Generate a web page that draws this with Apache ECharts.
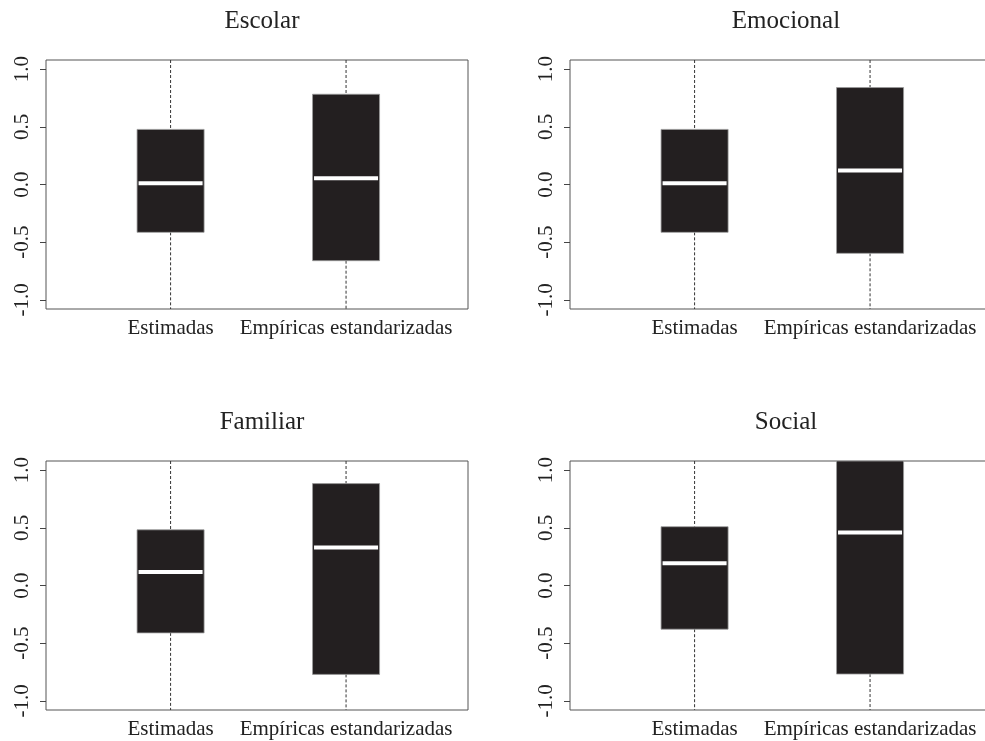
<!DOCTYPE html>
<html>
<head>
<meta charset="utf-8">
<script src="https://cdn.jsdelivr.net/npm/echarts@6/dist/echarts.min.js"></script>
<style>html,body{margin:0;padding:0;background:#fff;}#c{width:985px;height:741px;}</style>
</head>
<body>
<div id="c"></div>
<script>
// ---- data ----
const panels = ['Escolar', 'Emocional', 'Familiar', 'Social'];
const categories = ['Estimadas', 'Empíricas estandarizadas'];
const catPos = [1, 2];
const yTicks = [-1, -0.5, 0, 0.5, 1];
// per panel: [Estimadas, Empíricas]
const whiskerLow = [[-1.4, -1.6], [-1.4, -1.6], [-1.4, -1.8], [-1.3, -1.8]];
const q1 = [[-0.415, -0.661], [-0.415, -0.597], [-0.411, -0.771], [-0.379, -0.768]];
const median = [[0.011, 0.055], [0.011, 0.122], [0.118, 0.329], [0.193, 0.46]];
const q3 = [[0.478, 0.783], [0.478, 0.841], [0.483, 0.884], [0.51, 1.12]];
const whiskerHigh = [[1.4, 1.8], [1.4, 1.9], [1.4, 2.0], [1.4, 2.2]];

// ---- layout ----
const FONT = 'Liberation Serif';
const gridPos = [
  {left: 46, top: 60},
  {left: 570, top: 60},
  {left: 46, top: 461},
  {left: 570, top: 461}
];
const GW = 422, GH = 249;
const HALF = 0.191;

function renderItem(params, api) {
  const x = api.value(0), lo = api.value(1), a = api.value(2), md = api.value(3), b = api.value(4), hi = api.value(5);
  const pTL = api.coord([x - HALF, b]);
  const pBR = api.coord([x + HALF, a]);
  const pc = api.coord([x, md]);
  const pHi = api.coord([x, hi]);
  const pLo = api.coord([x, lo]);
  const cs = params.coordSys;
  const clipY = (y) => Math.max(cs.y, Math.min(cs.y + cs.height, y));
  const topY = clipY(pTL[1]), botY = clipY(pBR[1]);
  const dash = {stroke: '#333', lineWidth: 1, lineDash: [3, 2], fill: null};
  return {
    type: 'group',
    children: [
      {type: 'line', shape: {x1: pc[0], y1: clipY(pHi[1]), x2: pc[0], y2: topY}, style: dash},
      {type: 'line', shape: {x1: pc[0], y1: botY, x2: pc[0], y2: clipY(pLo[1])}, style: dash},
      {type: 'rect', shape: {x: pTL[0], y: topY, width: pBR[0] - pTL[0], height: botY - topY},
        style: {fill: '#231f20', stroke: '#9a9a9a', lineWidth: 0.8}},
      {type: 'line', shape: {x1: pTL[0] + 1.5, y1: pc[1], x2: pBR[0] - 1.5, y2: pc[1]},
        style: {stroke: '#ffffff', lineWidth: 4}}
    ]
  };
}

const grid = [], xAxis = [], yAxis = [], series = [], title = [];
panels.forEach((name, i) => {
  const g = gridPos[i];
  grid.push({left: g.left, top: g.top, width: GW, height: GH, show: true, containLabel: false,
    outerBoundsMode: 'none',
    borderColor: '#555', borderWidth: 1, backgroundColor: 'transparent'});
  title.push({text: name, left: g.left + GW / 2, top: g.top - 56, textAlign: 'center',
    textStyle: {fontFamily: FONT, fontSize: 25, fontWeight: 'normal', color: '#222'}});
  xAxis.push({type: 'value', gridIndex: i, min: 0.29, max: 2.695,
    axisLine: {show: false}, axisTick: {show: false}, splitLine: {show: false},
    axisLabel: {customValues: catPos, margin: 9, fontFamily: FONT, fontSize: 21, color: '#222',
      formatter: v => categories[catPos.indexOf(Math.round(v))] || ''}});
  yAxis.push({type: 'value', gridIndex: i, min: -1.08, max: 1.08,
    axisLine: {show: false}, splitLine: {show: false},
    axisTick: {show: true, customValues: yTicks, length: 6, lineStyle: {color: '#444'}},
    axisLabel: {customValues: yTicks, rotate: 90, margin: 13, fontFamily: FONT, fontSize: 21, color: '#222',
      formatter: v => v.toFixed(1)}});
  series.push({type: 'custom', xAxisIndex: i, yAxisIndex: i, clip: true,
    renderItem: renderItem,
    encode: {x: 0, y: [1, 2, 3, 4, 5]},
    data: catPos.map((p, k) => [p, whiskerLow[i][k], q1[i][k], median[i][k], q3[i][k], whiskerHigh[i][k]])});
});

const chart = echarts.init(document.getElementById('c'), null, {renderer: 'canvas'});
chart.setOption({animation: false, backgroundColor: '#fff', title, grid, xAxis, yAxis, series});
</script>
</body>
</html>
